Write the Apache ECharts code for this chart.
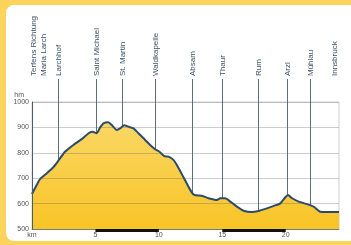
<!DOCTYPE html>
<html><head><meta charset="utf-8">
<script src="https://cdn.jsdelivr.net/npm/echarts@6/dist/echarts.min.js"></script>
<style>html,body{margin:0;padding:0;background:#FCD45C;}#c{width:351px;height:245px;}</style>
</head><body><div id="c"></div>
<script>
const distKm = [0,0.37,0.63,1.16,1.68,2.08,2.6,3.26,3.92,4.52,4.79,5.1,5.37,5.63,6.02,6.29,6.68,6.95,7.26,7.6,8.0,8.39,8.79,9.31,9.71,10.05,10.42,10.76,11.15,11.42,11.94,12.47,12.79,13.39,13.92,14.58,14.84,15.23,15.63,16.15,16.68,17.34,17.86,18.52,19.05,19.57,19.97,20.18,20.5,21.02,21.68,22.2,22.73,23.26,24.2];
const elevM = [638,673,696,719,743,769,804,831,854,879,883,877,900,916,920,909,890,896,908,903,896,877,857,831,814,804,787,785,772,752,704,654,634,631,621,614,621,621,608,588,572,567,571,581,591,601,625,634,621,608,598,588,568,567,567];
const placeNames = ['Terfens Richtung\nMaria Larch','Larchhof','Saint Michael','St. Martin','Waldkapelle','Absam','Thaur','Rum','Arzl','Mühlau','Innsbruck'];
const placeKm = [0.45,2.05,5.05,7.1,9.7,12.63,15.0,17.84,20.13,21.94,23.84];
const placeHasLine = [0,1,1,1,1,1,1,1,1,1,0];
const scaleBars = [[5,10],[15,20]];
const xTicks = {0:'km',5:'5',10:'10',15:'15',20:'20'};

const chart = echarts.init(document.getElementById('c'), null, {renderer:'canvas'});
chart.setOption({
  animation:false,
  graphic:[{type:'rect', z:-10, silent:true, shape:{x:6,y:5,width:360,height:236,r:8}, style:{fill:'#ffffff'}}],
  grid:{left:32,right:12,top:102,bottom:16,show:true,borderColor:'#d0d0d0',borderWidth:1},
  xAxis:{type:'value',min:0,max:24.2,interval:5,
    axisLine:{lineStyle:{color:'#8a8a8a',width:1}},axisTick:{show:false},splitLine:{show:false},
    axisLabel:{fontSize:7,color:'#555',margin:3,fontFamily:'Liberation Sans',
      formatter:v=> (xTicks[v]!==undefined? xTicks[v]:'')}},
  yAxis:{type:'value',min:500,max:1000,interval:100,z:3,
    name:'hm',nameGap:3,nameTextStyle:{fontSize:7,color:'#555',align:'right',padding:[0,8,0,0],fontFamily:'Liberation Sans'},
    axisLine:{show:true,lineStyle:{color:'#4d5a68',width:1}},axisTick:{show:false},
    splitLine:{lineStyle:{color:'rgba(90,90,90,0.3)',width:1}},
    axisLabel:{fontSize:7,color:'#555',margin:3,fontFamily:'Liberation Sans',formatter:v=>String(v)}},
  series:[
    {type:'custom',z:1,clip:false,silent:true,
     data:placeKm.map((k,i)=>[k,i]),
     renderItem:(params,api)=>{
       const i = api.value(1);
       const p = api.coord([api.value(0),500]);
       const x = Math.round(p[0])+0.5;
       const ch = [{type:'text',x:x,y:76,rotation:Math.PI/2,
         style:{text:placeNames[i],font:'8px "Liberation Sans"',fill:'#3f5066',align:'left',verticalAlign:'middle',lineHeight:10}}];
       if(placeHasLine[i]) ch.push({type:'line',shape:{x1:x,y1:79,x2:x,y2:p[1]},style:{stroke:'#5f6d7c',lineWidth:1}});
       return {type:'group',children:ch};
     }},
    {type:'line',z:2,data:distKm.map((d,i)=>[d,elevM[i]]),symbol:'none',smooth:0.2,
     lineStyle:{color:'#2b4a6c',width:2},
     areaStyle:{opacity:1,color:new echarts.graphic.LinearGradient(0,0,0,1,[{offset:0,color:'#FBD764'},{offset:1,color:'#F8C426'}])}},
    {type:'custom',z:5,clip:false,silent:true,data:scaleBars,
     renderItem:(params,api)=>{
       const a = api.coord([api.value(0),500]);
       const b = api.coord([api.value(1),500]);
       return {type:'rect',shape:{x:a[0],y:a[1],width:b[0]-a[0],height:3},style:{fill:'#111'}};
     }}
  ]
});
</script></body></html>
